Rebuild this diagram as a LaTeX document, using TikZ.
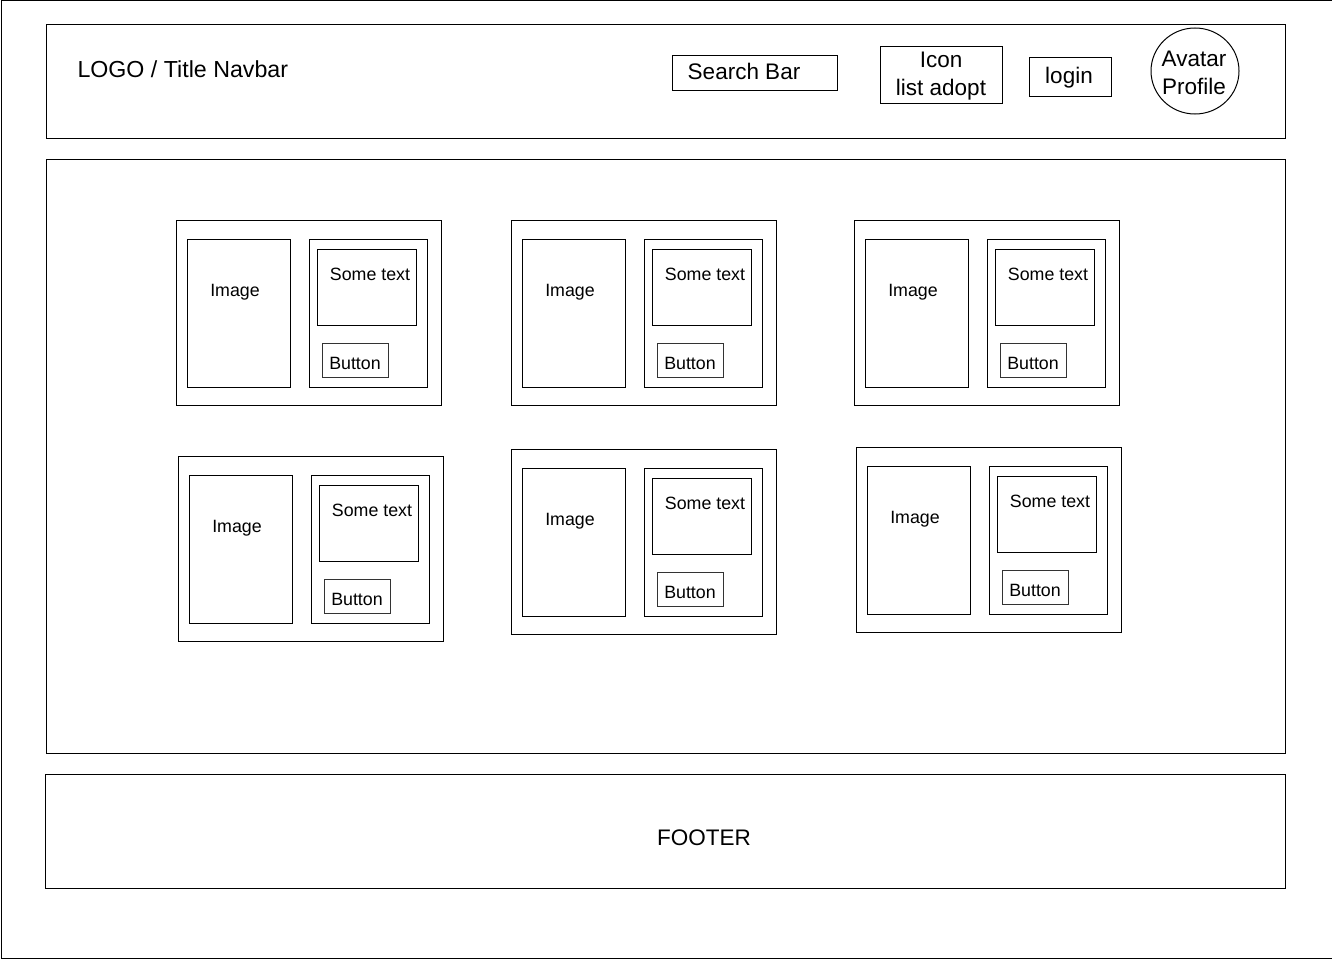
\documentclass[tikz,border=0pt]{standalone}
\usepackage{fontspec}
\setmainfont{Liberation Sans}
\usetikzlibrary{shapes.geometric}
\tikzset{
  box/.style={draw, rectangle, inner sep=0pt, anchor=north west},
  lbl/.style={inner sep=0pt, font=\fontsize{17.8}{21}\selectfont},
  big/.style={inner sep=0pt, font=\fontsize{22.5}{28}\selectfont, align=center},
}
\newcommand\mycard[3]{%
  \node[box, minimum width=265pt, minimum height=185pt] (card#1) at (#2,#3) {};
  \node[box, minimum width=103pt, minimum height=148pt] (img#1) at ([shift={(11,19)}]card#1.north west) {};
  \node[box, minimum width=118pt, minimum height=148pt] (panel#1) at ([shift={(133,19)}]card#1.north west) {};
  \node[box, minimum width=99pt, minimum height=76pt] (txt#1) at ([shift={(141,29)}]card#1.north west) {};
  \node[box, minimum width=66pt, minimum height=34pt, line width=0.8pt, draw=black!80] (btn#1) at ([shift={(146,123)}]card#1.north west) {};
  \node[lbl] (imgl#1) at ([shift={(59,72.5)}]card#1.north west) {Image};
  \node[lbl] (txtl#1) at ([shift={(194,54.3)}]card#1.north west) {Some text};
  \node[lbl] (btnl#1) at ([shift={(179,143.3)}]card#1.north west) {Button};
}
\begin{document}
\begin{tikzpicture}[x=1pt, y=-1pt, line width=1pt]
\useasboundingbox (0,0) rectangle (1332,958);
\node[box, minimum width=1331pt, minimum height=957pt] (page) at (0.5,0.5) {};
% navbar
\node[box, minimum width=1239pt, minimum height=114pt] (nav) at (46,24) {};
\node[big, anchor=west, font=\fontsize{23.2}{28}\selectfont] (logo) at (77,69.2) {LOGO / Title Navbar};
\node[box, minimum width=165pt, minimum height=35pt] (search) at (672,55) {};
\node[big] (searchl) at (744,71.3) {Search Bar};
\node[box, minimum width=122pt, minimum height=57pt] (icon) at (880,46) {};
\node[big] (iconl) at (941,75.8) {Icon\\list adopt};
\node[box, minimum width=82pt, minimum height=39pt] (login) at (1029,57) {};
\node[big] (loginl) at (1069,77.5) {login};
\node[draw, ellipse, inner sep=0pt, minimum width=88pt, minimum height=86pt] (avatar) at (1195,71) {};
\node[big] (avatarl) at (1194,72.5) {Avatar\\Profile};
% main
\node[box, minimum width=1239pt, minimum height=594pt] (main) at (46,159) {};
\mycard{1}{176}{220}
\mycard{2}{511}{220}
\mycard{3}{854}{220}
\mycard{4}{178}{456}
\mycard{5}{511}{449}
\mycard{6}{856}{447}
% footer
\node[box, minimum width=1240pt, minimum height=114pt] (footer) at (45,774) {};
\node[big] (footerl) at (704,837.3) {FOOTER};
\end{tikzpicture}
\end{document}
